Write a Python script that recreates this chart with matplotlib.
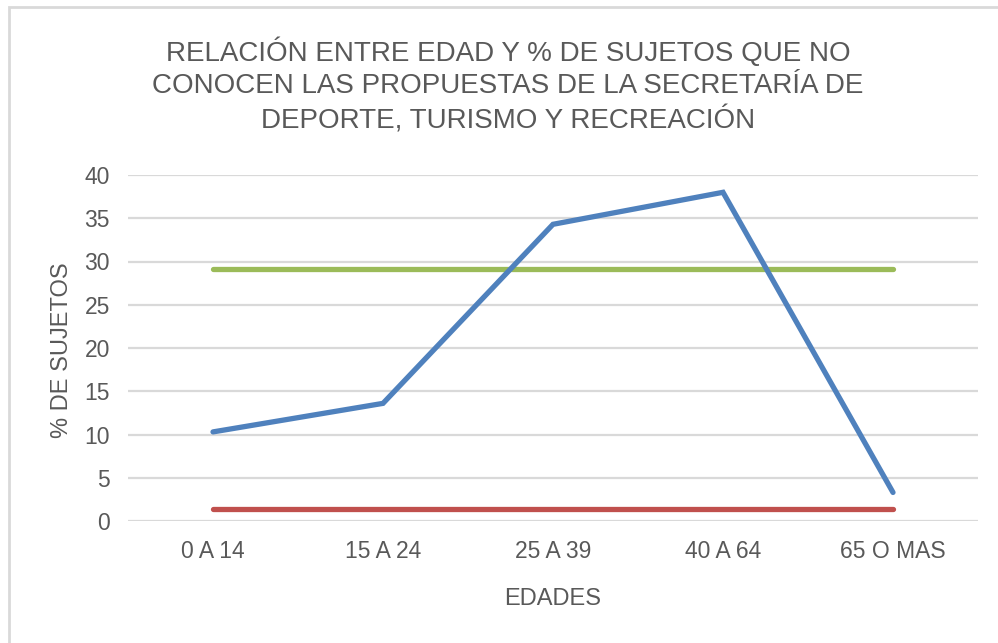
import matplotlib
matplotlib.use("Agg")
import matplotlib.pyplot as plt
from matplotlib import font_manager
from matplotlib.patches import Rectangle

# data
edades = ["0 A 14", "15 A 24", "25 A 39", "40 A 64", "65 O MAS"]
pct_sujetos = [10.3, 13.6, 34.3, 38.0, 3.3]
limite_sup = [29.1, 29.1, 29.1, 29.1, 29.1]
limite_inf = [1.4, 1.4, 1.4, 1.4, 1.4]
yticks = [0, 5, 10, 15, 20, 25, 30, 35, 40]

names = {f.name for f in font_manager.fontManager.ttflist}
family = "Liberation Sans Narrow" if "Liberation Sans Narrow" in names else "Liberation Sans"
plt.rcParams["font.family"] = [family, "DejaVu Sans"]

TEXT = "#595959"
GRID = "#d9d9d9"

W, H = 998, 643
fig = plt.figure(figsize=(W / 100, H / 100), dpi=100)
ax = fig.add_axes([128 / W, 1 - 521 / H, 850 / W, 346 / H])

x = list(range(len(edades)))
ax.plot(x, pct_sujetos, color="#4f81bd", lw=3.8, solid_capstyle="round",
        solid_joinstyle="miter", clip_on=False, zorder=4)
ax.plot(x, limite_sup, color="#9bbb59", lw=3.8, solid_capstyle="round",
        clip_on=False, zorder=3)
ax.plot(x, limite_inf, color="#c0504d", lw=3.8, solid_capstyle="round",
        clip_on=False, zorder=3)

ax.set_xlim(-0.5, len(edades) - 0.5)
ax.set_ylim(0, 40)
ax.set_yticks(yticks)
ax.set_xticks(x)
ax.set_xticklabels(edades)
ax.yaxis.grid(True, color=GRID, lw=1.6)
ax.set_axisbelow(True)
for s in ax.spines.values():
    s.set_visible(False)
ax.tick_params(length=0, labelsize=16.5, colors=TEXT, pad=13)
ax.tick_params(axis="x", pad=14)

fig.text(62 / W, 1 - 350 / H, "% DE SUJETOS", rotation=90, ha="center", va="center",
         fontsize=17, color=TEXT)
fig.text(553 / W, 1 - 599 / H, "EDADES", ha="center", va="center",
         fontsize=17, color=TEXT)
fig.text(508 / W, 1 - 86 / H,
         "RELACIÓN ENTRE EDAD Y % DE SUJETOS QUE NO\n"
         "CONOCEN LAS PROPUESTAS DE LA SECRETARÍA DE\n"
         "DEPORTE, TURISMO Y RECREACIÓN",
         ha="center", va="center", fontsize=20, color=TEXT, linespacing=1.3)

# chart frame, only top and left edges are visible in the crop
fig.patches.append(Rectangle((9 / W, -0.1), 1.2, 1.1 - 7 / H, transform=fig.transFigure,
                             fill=False, edgecolor=GRID, lw=2))

fig.savefig("out.png", dpi=100, facecolor="white")
